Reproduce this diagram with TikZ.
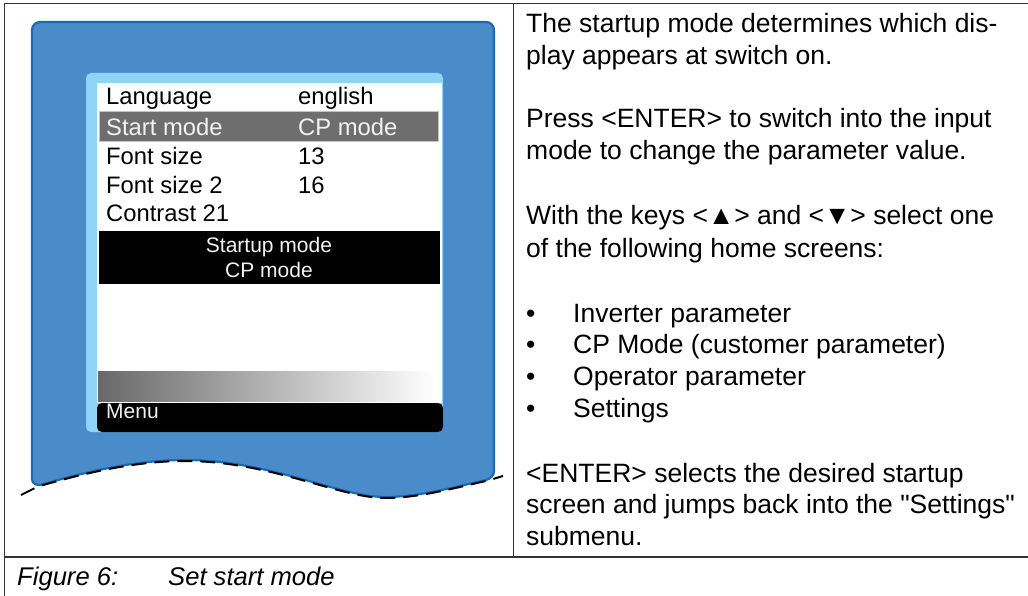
\documentclass[tikz,border=0pt]{standalone}
\usepackage{fontspec}
\setmainfont{Liberation Sans}[Ligatures=TeXOff]
\definecolor{devfill}{HTML}{4A8CCA}
\definecolor{devedge}{HTML}{1A6AB4}
\definecolor{lightblue}{HTML}{8ED4F6}
\definecolor{hlgray}{HTML}{6E6E6E}
\definecolor{hledge}{HTML}{C4C4C4}
\definecolor{rule}{HTML}{333333}
\definecolor{offwhite}{HTML}{F2F2F2}
\begin{document}
\begin{tikzpicture}[x=1pt,y=-1pt,
  tableline/.style={draw=rule,line width=1.4pt},
  scr/.style={anchor=base west,inner sep=0pt,font=\fontsize{23.8}{28}\selectfont},
  scrw/.style={scr,text=offwhite},
  boxtxt/.style={anchor=base,inner sep=0pt,text=offwhite,font=\fontsize{21}{25}\selectfont},
  body/.style={anchor=base west,inner sep=0pt,font=\fontsize{26.5}{32}\selectfont},
  captxt/.style={anchor=base west,inner sep=0pt,font=\fontsize{25.6}{30}\selectfont\itshape},
  bdash/.style={draw=black,line width=2pt,dash pattern=on 15pt off 8pt}]
\useasboundingbox (0,0) rectangle (1028,596);
% table lines
\coordinate (tl) at (4.5,3.5);
\coordinate (tr) at (1028,3.5);
\coordinate (bl) at (4.5,596);
\coordinate (ml) at (4.5,557);
\coordinate (mr) at (1028,557);
\coordinate (dt) at (513.5,3.5);
\coordinate (db) at (513.5,557);
\draw[tableline] (tr) -- (tl) -- (bl);
\draw[tableline] (ml) -- (mr);
\draw[tableline] (dt) -- (db);
% device body
\draw[fill=devfill,draw=devedge,line width=2.2pt]
  (32,30) .. controls (32,25.6) and (35.6,22) .. (40,22) -- (486,22)
  .. controls (490.4,22) and (494,25.6) .. (494,30) -- (494,471)
  .. controls (494,475) and (491,478.5) .. (486,480)
  .. controls (450,488) and (418,497) .. (385,497)
  .. controls (340,497) and (270,460) .. (185,460)
  .. controls (135,460) and (85,472) .. (42,484.5)
  .. controls (37,486) and (32,484) .. (32,479) -- cycle;
\draw[bdash] (21,495) -- (38,486.5) .. controls (85,473) and (135,461) .. (185,461)
  .. controls (270,461) and (340,498) .. (385,498)
  .. controls (418,498) and (450,489) .. (488,480.5) -- (503,476);
% screen
\fill[lightblue,rounded corners=5pt] (86,73) rectangle (443,432);
\fill[white] (97,83) rectangle (442,403);
\fill[hlgray] (99,111) rectangle (438,141);
\draw[hledge,line width=0.8pt] (99,111) rectangle (438,141);
\fill[black] (99,231) rectangle (440,284);
\shade[left color={rgb,255:red,104;green,104;blue,104},right color=white] (98,371) rectangle (436,401);
\fill[black,rounded corners=5pt] (97,403) rectangle (443,432);
% screen text
\node[scr] (lang) at (106,105) {Language};
\node[scr] (langv) at (298,105) {english};
\node[scrw] (start) at (106,136) {Start mode};
\node[scrw] (startv) at (298,136) {CP mode};
\node[scr] (fs) at (106,165) {Font size};
\node[scr] (fsv) at (298,165) {13};
\node[scr] (fs2) at (106,194) {Font size 2};
\node[scr] (fs2v) at (298,194) {16};
\node[scr] (con) at (106,222) {Contrast 21};
\node[boxtxt] (su) at (269,252) {Startup mode};
\node[boxtxt] (cpm) at (269,277) {CP mode};
\node[scrw,font=\fontsize{21}{25}\selectfont] (menu) at (106,418) {Menu};
% right column
\node[body] (l1) at (526,33) {The startup mode determines which dis-};
\node[body] (l2) at (526,65) {play appears at switch on.};
\node[body] (l3) at (526,128) {Press <ENTER> to switch into the input};
\node[body] (l4) at (526,160) {mode to change the parameter value.};
\node[body] (l5) at (526,225) {With the keys <▲> and <▼> select one};
\node[body] (l6) at (526,257) {of the following home screens:};
\foreach \y/\t [count=\i] in {322/Inverter parameter,353.5/CP Mode (customer parameter),385.5/Operator parameter,417/Settings}{
  \node[body] (b\i) at (526,\y) {•};
  \node[body] (bt\i) at (573,\y) {\t};
}
\node[body] (l7) at (526,482) {<ENTER> selects the desired startup};
\node[body] (l8) at (526,513) {screen and jumps back into the "Settings"};
\node[body] (l9) at (526,545) {submenu.};
% caption
\node[captxt] (fig) at (17,585) {Figure 6:};
\node[captxt] (figt) at (168,585) {Set start mode};
\end{tikzpicture}
\end{document}
